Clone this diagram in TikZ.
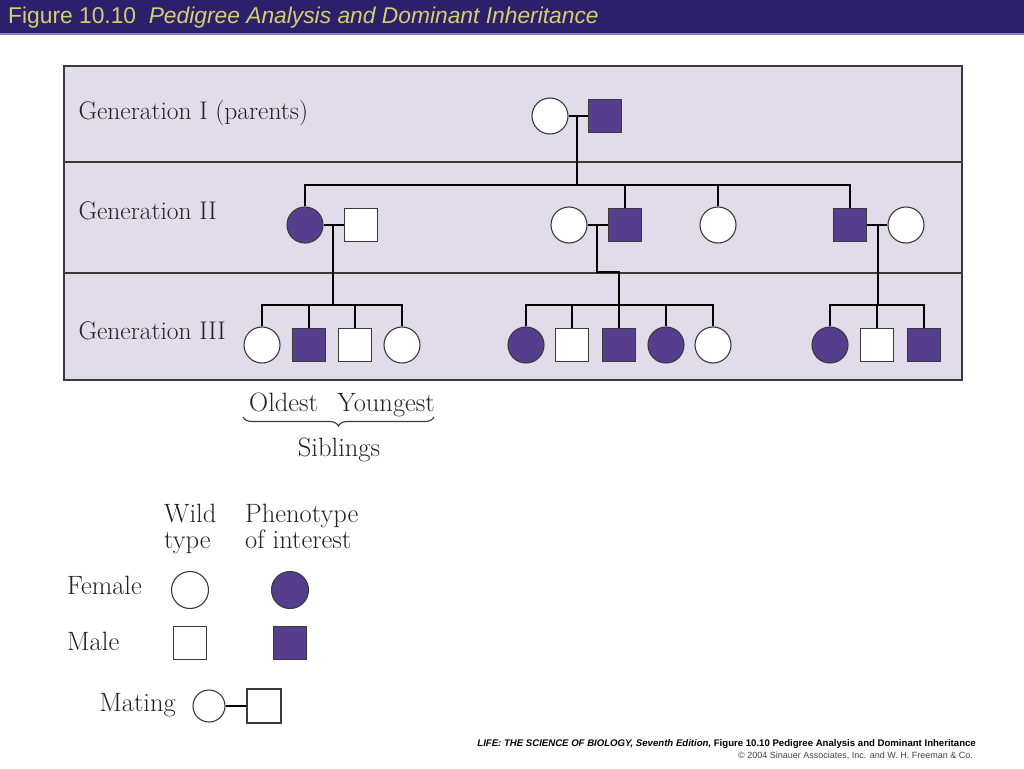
\documentclass[tikz,border=0pt]{standalone}
\usepackage{fontspec}
\usetikzlibrary{decorations.pathreplacing}
\newfontfamily\headfont{Liberation Sans}
\definecolor{band}{HTML}{2C1F6C}
\definecolor{bandline}{HTML}{8E80C0}
\definecolor{bandtext}{HTML}{D6CE6E}
\definecolor{panel}{HTML}{E2DCEA}
\definecolor{pheno}{HTML}{573D8D}
\definecolor{rim}{HTML}{3A3A3A}
\definecolor{ink}{HTML}{222222}

\tikzset{
  female/.style={circle, draw=rim, line width=1.1pt, fill=white, minimum size=36pt, inner sep=0pt},
  male/.style={rectangle, draw=rim, line width=1.1pt, fill=white, minimum size=33pt, inner sep=0pt},
  affected/.style={fill=pheno},
  kin/.style={line width=2.6pt, draw=black},
  genlabel/.style={anchor=west, text=ink, font=\fontsize{25.5}{30}\selectfont},
  legtext/.style={text=ink, font=\fontsize{26.5}{26}\selectfont, inner sep=0pt}
}

\begin{document}
\begin{tikzpicture}[x=1pt, y=-1pt]
  \useasboundingbox (0,0) rectangle (1024,768);
  \fill[white] (0,0) rectangle (1024,768);

  % title band
  \fill[band] (0,0) rectangle (1024,33);
  \fill[bandline] (0,33) rectangle (1024,35);
  \node[anchor=base west, inner sep=0pt, text=bandtext, font=\headfont\fontsize{22.8}{24}\selectfont]
    (title) at (8,24) {Figure 10.10\hspace{0.55em}\itshape Pedigree Analysis and Dominant Inheritance};

  % panel with the three generations
  \draw[draw=rim, fill=panel, line width=1.2pt] (64,66) rectangle (962,380);
  \draw[draw=rim, line width=1.2pt] (64,162) -- (962,162);
  \draw[draw=rim, line width=1.2pt] (64,273) -- (962,273);
  \node[genlabel] (lab1) at (75,113) {Generation I (parents)};
  \node[genlabel] (lab2) at (75,211) {Generation II};
  \node[genlabel] (lab3) at (75,331) {Generation III};

  % generation I
  \node[female] (g1f) at (550,116) {};
  \node[male, affected] (g1m) at (605,116) {};
  \coordinate (j1) at (577,116); \coordinate (s1) at (577,185);

  % generation II
  \node[female, affected] (g2a) at (305,225) {};
  \node[male] (g2b) at (361,225) {};
  \node[female] (g2c) at (569,225) {};
  \node[male, affected] (g2d) at (625,225) {};
  \node[female] (g2e) at (718,225) {};
  \node[male, affected] (g2f) at (850,225) {};
  \node[female] (g2g) at (906,225) {};
  \coordinate (j2) at (333,225); \coordinate (s2) at (333,305);
  \coordinate (j3) at (597,225); \coordinate (k3) at (597,272); \coordinate (s3) at (619,305);
  \coordinate (j4) at (878,225); \coordinate (s4) at (878,305);

  % generation III
  \node[female] (g3a) at (262,345) {};
  \node[male, affected] (g3b) at (309,345) {};
  \node[male] (g3c) at (355,345) {};
  \node[female] (g3d) at (402,345) {};
  \node[female, affected] (g3e) at (526,345) {};
  \node[male] (g3f) at (572,345) {};
  \node[male, affected] (g3g) at (619,345) {};
  \node[female, affected] (g3h) at (666,345) {};
  \node[female] (g3i) at (713,345) {};
  \node[female, affected] (g3j) at (830,345) {};
  \node[male] (g3k) at (877,345) {};
  \node[male, affected] (g3l) at (924,345) {};

  % matings and descent
  \draw[kin] (g1f.east) -- (g1m.west);
  \draw[kin] (j1) -- (s1);
  \draw[kin] (g2a.north) -- (g2a.north |- s1) -- (g2f.north |- s1) -- (g2f.north);
  \draw[kin] (g2d.north) -- (g2d.north |- s1);
  \draw[kin] (g2e.north) -- (g2e.north |- s1);

  \draw[kin] (g2a.east) -- (g2b.west);
  \draw[kin] (g2c.east) -- (g2d.west);
  \draw[kin] (g2f.east) -- (g2g.west);
  \draw[kin] (j2) -- (s2);
  \draw[kin] (j3) -- (k3) -| (s3);
  \draw[kin] (j4) -- (s4);

  \draw[kin] (g3a.north) -- (g3a.north |- s2) -- (g3d.north |- s2) -- (g3d.north);
  \draw[kin] (g3b.north) -- (g3b.north |- s2);
  \draw[kin] (g3c.north) -- (g3c.north |- s2);
  \draw[kin] (g3e.north) -- (g3e.north |- s3) -- (g3i.north |- s3) -- (g3i.north);
  \draw[kin] (g3f.north) -- (g3f.north |- s3);
  \draw[kin] (g3g.north) -- (g3g.north |- s3);
  \draw[kin] (g3h.north) -- (g3h.north |- s3);
  \draw[kin] (g3j.north) -- (g3j.north |- s4) -- (g3l.north |- s4) -- (g3l.north);
  \draw[kin] (g3k.north) -- (g3k.north |- s4);

  % birth order
  \node[legtext, anchor=base west] (oldest) at (249,411) {Oldest};
  \node[legtext, anchor=base east] (youngest) at (435,411) {Youngest};
  \draw[rim, line width=1.1pt, decorate, decoration={brace, mirror, amplitude=9pt}]
    (243,417) -- (434,417);
  \node[legtext, anchor=base] (sibs) at (339,456) {Siblings};

  % key
  \node[legtext, anchor=base west, align=left] (wild) at (164,548) {Wild\\type};
  \node[legtext, anchor=base west, align=left] (pheno) at (245,548) {Phenotype\\of interest};
  \node[legtext, anchor=base west] (fem) at (67,594) {Female};
  \node[legtext, anchor=base west] (mal) at (67,650) {Male};
  \node[legtext, anchor=base east] (mat) at (176,711) {Mating};
  \node[female, minimum size=37pt] (kf1) at (190,590) {};
  \node[female, affected, minimum size=37pt] (kf2) at (290,590) {};
  \node[male] (km1) at (190,643) {};
  \node[male, affected] (km2) at (290,643) {};
  \node[female, minimum size=32pt] (kmf) at (209,706) {};
  \node[male, minimum size=34pt] (kmm) at (264,706) {};
  \draw[kin] (kmf.east) -- (kmm.west);

  % credit
  \node[anchor=base east, inner sep=0pt, font=\headfont\bfseries\fontsize{9.6}{10}\selectfont] (credit1) at (976,746)
    {\itshape LIFE: THE SCIENCE OF BIOLOGY, Seventh Edition,\upshape\ Figure 10.10 Pedigree Analysis and Dominant Inheritance};
  \node[anchor=base east, inner sep=0pt, text=ink!85, font=\headfont\fontsize{9}{9}\selectfont] (credit2) at (973,758)
    {\textcopyright\ 2004 Sinauer Associates, Inc. and W. H. Freeman \& Co.};
\end{tikzpicture}
\end{document}
